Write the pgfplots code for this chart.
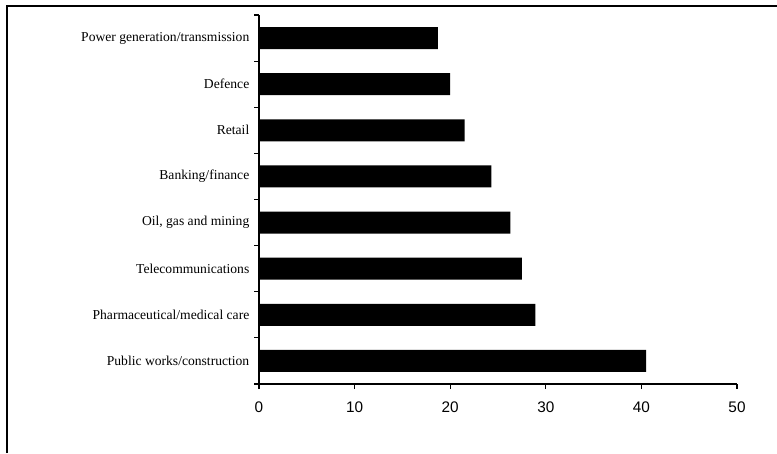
\documentclass[border=0pt]{standalone}
\usepackage{pgfplots}
\pgfplotsset{compat=1.18}
\usepackage{fontspec}
\setmainfont{Liberation Serif}
\newfontfamily\ticksans{Liberation Sans}

\begin{document}
\begin{tikzpicture}
% page area and outer frame
\path[use as bounding box] (0,0) rectangle (582.75pt,339.75pt);
\draw[line width=1.5pt] (5.25pt,0) -- (5.25pt,335.25pt) -- (582.75pt,335.25pt);
\begin{axis}[
  at={(194.25pt,51.75pt)}, anchor=south west,
  scale only axis, width=358.5pt, height=276.75pt,
  xmin=0, xmax=50, ymin=-0.5, ymax=7.5,
  xbar, bar width=16.5pt,
  axis x line*=bottom, axis y line*=left,
  axis line style={line width=1pt, -},
  xtick={0,10,...,50},
  ytick={0,...,7},
  yticklabels={Public works/construction, Pharmaceutical/medical care, Telecommunications, {Oil, gas and mining}, Banking/finance, Retail, Defence, Power generation/transmission},
  major y tick style={draw=none},
  minor ytick={-0.5,0.5,...,7.5},
  tick align=outside,
  major tick length=3.75pt,
  minor tick length=3.75pt,
  tick style={black, line width=0.8pt},
  /pgf/number format/assume math mode=true,
  xticklabel style={font=\ticksans\fontsize{11.5}{12}\selectfont, yshift=-6pt},
  yticklabel style={font=\fontsize{10.2}{11}\selectfont},
]
\addplot[fill=black, draw=none] coordinates {
  (40.5,0) (28.9,1) (27.5,2) (26.3,3) (24.3,4) (21.5,5) (20.0,6) (18.7,7)
};
\end{axis}
\end{tikzpicture}
\end{document}
